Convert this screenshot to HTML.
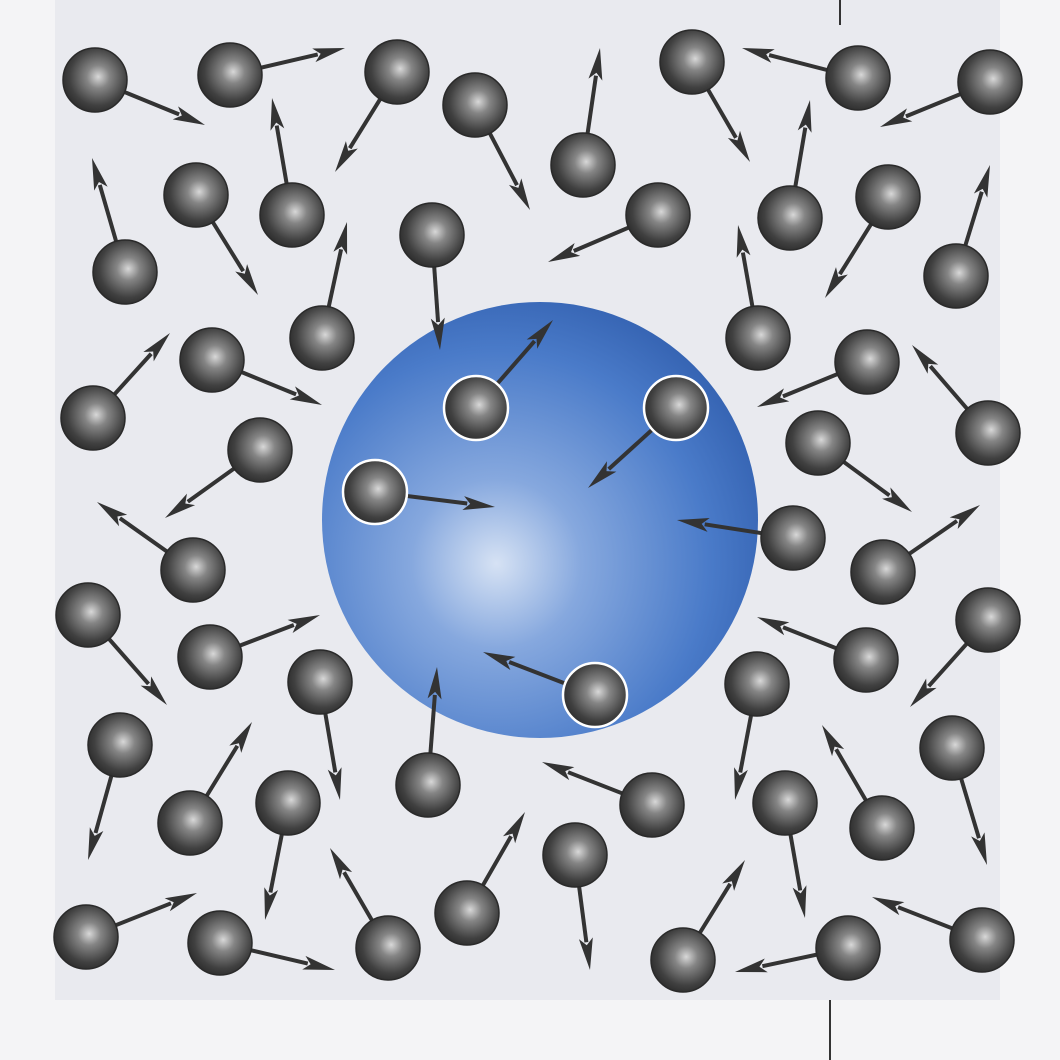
<!DOCTYPE html>
<html><head><meta charset="utf-8"><style>
html,body{margin:0;padding:0;background:#f4f4f6;}
svg{display:block;}
</style></head><body>
<svg id="fig" width="1060" height="1060" viewBox="0 0 1060 1060" xmlns="http://www.w3.org/2000/svg">
<defs>
<radialGradient id="ball" cx="0.55" cy="0.45" r="0.6">
<stop offset="0" stop-color="#d8d8d8"/>
<stop offset="0.3" stop-color="#858585"/>
<stop offset="0.75" stop-color="#404040"/>
<stop offset="1" stop-color="#2a2a2a"/>
</radialGradient>
<radialGradient id="big" cx="0.4" cy="0.6" r="0.65">
<stop offset="0" stop-color="#d6e2f4"/>
<stop offset="0.3" stop-color="#86a8de"/>
<stop offset="0.75" stop-color="#4a7bc9"/>
<stop offset="1" stop-color="#3563b2"/>
</radialGradient>
</defs>
<rect x="0" y="0" width="1060" height="1060" fill="#f4f4f6"/>
<rect x="55" y="0" width="945" height="1000" fill="#e9eaef"/>
<line x1="840" y1="0" x2="840" y2="25" stroke="#333" stroke-width="2"/>
<line x1="830" y1="1000" x2="830" y2="1060" stroke="#333" stroke-width="2"/>
<circle cx="540" cy="520" r="218" fill="url(#big)"/>
<g id="parts"></g>
</svg>
<script>
const cx=[95,230,397,475,583,692,858,990,125,196,292,432,658,790,888,956,322,758,212,93,476,676,867,988,260,818,375,793,193,883,88,210,320,595,866,988,757,120,428,190,288,652,785,882,952,86,220,388,467,575,683,848,982];
const cy=[80,75,72,105,165,62,78,82,272,195,215,235,215,218,197,276,338,338,360,418,408,408,362,433,450,443,492,538,570,572,615,657,682,695,660,620,684,745,785,823,803,805,803,828,748,937,943,948,913,855,960,948,940];
const tx=[205,345,335,530,600,750,742,880,92,258,272,440,548,810,825,990,347,738,322,170,553,588,757,912,165,912,495,677,97,980,167,320,340,483,757,910,735,88,437,252,265,542,805,822,987,197,335,330,525,590,745,735,872];
const ty=[125,48,172,210,48,162,48,127,158,295,98,350,262,100,298,165,222,225,405,333,320,488,407,345,518,512,507,520,502,505,705,615,800,652,617,707,800,860,667,722,920,762,918,725,865,893,970,848,812,970,860,972,897];
const NS='http://www.w3.org/2000/svg';
const g=document.getElementById('parts');
for(let i=0;i<cx.length;i++){
  const dx=tx[i]-cx[i],dy=ty[i]-cy[i],L=Math.hypot(dx,dy),ux=dx/L,uy=dy/L;
  const bx=tx[i]-ux*32,by=ty[i]-uy*32;
  const grp=document.createElementNS(NS,'g');
  
  
  const ln=document.createElementNS(NS,'line');
  
  
  ln.setAttribute('x1',cx[i]);ln.setAttribute('y1',cy[i]);
  ln.setAttribute('x2',bx+ux*4);ln.setAttribute('y2',by+uy*4);
  ln.setAttribute('stroke','#333');ln.setAttribute('stroke-width','4');
  grp.appendChild(ln);
  const hd=document.createElementNS(NS,'polygon');
  
  
  hd.setAttribute('points',`${tx[i]},${ty[i]} ${bx-uy*7},${by+ux*7} ${bx+ux*7},${by+uy*7} ${bx+uy*7},${by-ux*7}`);
  hd.setAttribute('fill','#333');
  grp.appendChild(hd);
  const inside=Math.hypot(cx[i]-540,cy[i]-520)<218;
  const c=document.createElementNS(NS,'circle');
  
  
  c.setAttribute('cx',cx[i]);c.setAttribute('cy',cy[i]);c.setAttribute('r',32);
  c.setAttribute('fill','url(#ball)');
  c.setAttribute('stroke',inside?'#ffffff':'#2a2a2a');
  c.setAttribute('stroke-width',inside?'2.5':'1.5');
  grp.appendChild(c);
  g.appendChild(grp);
}
</script>
</body></html>
